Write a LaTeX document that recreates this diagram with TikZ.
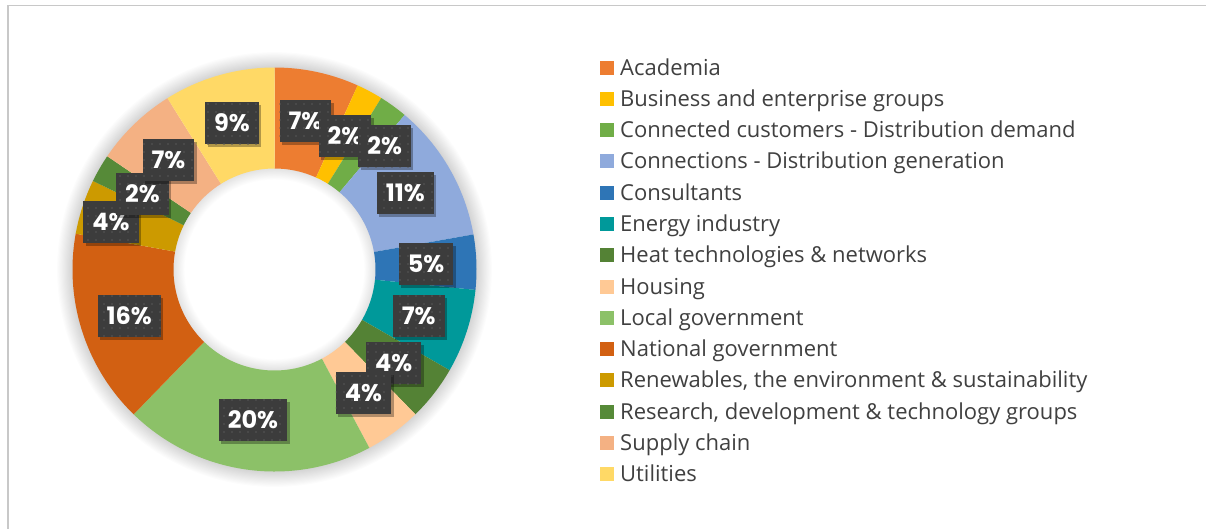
\documentclass[tikz,border=0pt]{standalone}
\usepackage{fontspec}
\setmainfont{Open Sans}
\newfontfamily\labfont{Poppins}
\usetikzlibrary{shadows,patterns.meta}
\definecolor{cA}{HTML}{ED7D31}
\definecolor{cB}{HTML}{FFC000}
\definecolor{cC}{HTML}{70AD47}
\definecolor{cD}{HTML}{8FAADC}
\definecolor{cE}{HTML}{2E75B6}
\definecolor{cF}{HTML}{00999A}
\definecolor{cG}{HTML}{548235}
\definecolor{cH}{HTML}{FFC995}
\definecolor{cI}{HTML}{8CC168}
\definecolor{cJ}{HTML}{D26012}
\definecolor{cK}{HTML}{CC9A00}
\definecolor{cL}{HTML}{568A38}
\definecolor{cM}{HTML}{F4B183}
\definecolor{cN}{HTML}{FFD966}
\definecolor{labgray}{HTML}{3C3C3C}
\definecolor{dotgray}{HTML}{575757}
\definecolor{legtext}{HTML}{404040}
\definecolor{framegray}{HTML}{C8C8C8}
\newcommand\myslice[3]{%
  \fill[#3] (#1-90:101) -- (#1-90:202) arc[start angle=#1-90,end angle=#2-90,radius=202]
    -- (#2-90:101) arc[start angle=#2-90,end angle=#1-90,radius=101] -- cycle;}
\tikzset{
  lab/.style={fill=labgray, text=white, font=\labfont\bfseries\fontsize{24}{24}\selectfont,
    minimum height=42pt, inner xsep=9pt, inner ysep=0pt,
    drop shadow={shadow xshift=2.5pt,shadow yshift=-3pt,opacity=0.3,fill=black},
    postaction={pattern={Dots[distance=8pt,radius=0.9pt]}, pattern color=dotgray}},
  legsq/.style={minimum size=14pt, inner sep=0pt},
  legtx/.style={anchor=base west, inner sep=0pt, text=legtext, font=\fontsize{22}{22}\selectfont}
}
\begin{document}
\begin{tikzpicture}[x=1pt,y=-1pt]
\useasboundingbox (0,0) rectangle (1206,528);
\fill[white] (0,0) rectangle (1206,528);
\draw[framegray, line width=1.4pt] (8,540) -- (8,5.6) -- (1220,5.6);
\coordinate (c) at (274.5,269.5);
% soft shadows
\foreach \i in {1,...,14} {
  \draw[black, opacity=0.011, line width=\i*2.2pt] (c) circle (202);
  \draw[black, opacity=0.009, line width=\i*1.6pt] (c) circle (101);
}
\begin{scope}[shift={(c)}]
\myslice{0}{24.3}{cA}
\myslice{24.3}{31.9}{cB}
\myslice{31.9}{40.1}{cC}
\myslice{40.1}{80}{cD}
\myslice{80}{95.8}{cE}
\myslice{95.8}{119.9}{cF}
\myslice{119.9}{135.8}{cG}
\myslice{135.8}{152}{cH}
\myslice{152}{224.2}{cI}
\myslice{224.2}{280.2}{cJ}
\myslice{280.2}{296}{cK}
\myslice{296}{304.1}{cL}
\myslice{304.1}{328}{cM}
\myslice{328}{360}{cN}
\end{scope}
% data labels
\node[lab] (lA) at (305.5,121) {7\%};
\node[lab] (lB) at (345,135.5) {2\%};
\node[lab] (lC) at (384.7,146) {2\%};
\node[lab] (lD) at (405.3,193.3) {11\%};
\node[lab] (lE) at (426,264) {5\%};
\node[lab] (lF) at (418.7,316.3) {7\%};
\node[lab] (lG) at (393.7,363) {4\%};
\node[lab] (lH) at (363.5,392.5) {4\%};
\node[lab] (lI) at (253,420) {20\%};
\node[lab] (lJ) at (129.2,316) {16\%};
\node[lab] (lK) at (111,222.3) {4\%};
\node[lab] (lL) at (142.5,193.7) {2\%};
\node[lab] (lM) at (168.5,160.3) {7\%};
\node[lab] (lN) at (232,123) {9\%};
% legend
\foreach \txt/\col [count=\i from 0] in {
  Academia/cA,
  Business and enterprise groups/cB,
  Connected customers - Distribution demand/cC,
  Connections - Distribution generation/cD,
  Consultants/cE,
  Energy industry/cF,
  Heat technologies \& networks/cG,
  Housing/cH,
  Local government/cI,
  National government/cJ,
  {Renewables, the environment \& sustainability}/cK,
  {Research, development \& technology groups}/cL,
  Supply chain/cM,
  Utilities/cN} {
  \node[legsq, fill=\col] (sq\i) at (607,67.6+31.28*\i) {};
  \node[legtx] (leg\i) at (620,75.1+31.28*\i) {\txt};
}
\end{tikzpicture}
\end{document}
